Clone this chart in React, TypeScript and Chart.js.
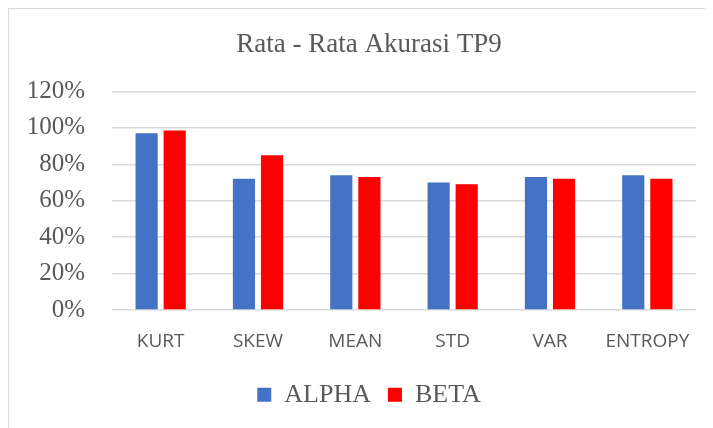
import React, { useEffect, useRef } from "react";
import { Chart, registerables } from "chart.js";

Chart.register(...registerables);

const categories = ["KURT", "SKEW", "MEAN", "STD", "VAR", "ENTROPY"];
const alphaValues = [0.97, 0.72, 0.74, 0.70, 0.73, 0.74];
const betaValues = [0.985, 0.85, 0.73, 0.69, 0.72, 0.72];
const titleText = "Rata - Rata Akurasi TP9";

export default function App() {
  const ref = useRef<HTMLCanvasElement | null>(null);
  useEffect(() => {
    if (!ref.current) return;
    const chart = new Chart(ref.current, {
      type: "bar",
      data: {
        labels: categories,
        datasets: [
          { label: "ALPHA", data: alphaValues, backgroundColor: "#4472C4", categoryPercentage: 0.577, barPercentage: 0.79 },
          { label: "BETA", data: betaValues, backgroundColor: "#FF0000", categoryPercentage: 0.577, barPercentage: 0.79 },
        ],
      },
      options: {
        animation: false,
        responsive: false,
        layout: { padding: { left: 16, right: 0, top: 0, bottom: 10.3 } },
        plugins: {
          title: {
            display: true,
            text: titleText,
            color: "#595959",
            font: { family: "'Liberation Serif', 'DejaVu Serif', serif", size: 27, weight: "normal" },
            padding: { top: 20, bottom: 30 },
          },
          legend: {
            position: "bottom",
            labels: {
              color: "#595959",
              font: { family: "'Liberation Serif', serif", size: 26 },
              boxWidth: 14,
              boxHeight: 14,
              padding: 17,
            },
          },
          tooltip: { enabled: false },
        },
        scales: {
          x: {
            grid: { display: false, drawTicks: false },
            border: { display: false },
            ticks: {
              color: "#595959",
              font: { family: "'Open Sans', sans-serif", size: 19 },
              padding: 20,
              maxRotation: 0,
            },
            afterFit: (s: any) => { s.height = 54.7; },
          },
          y: {
            min: 0,
            max: 1.2,
            ticks: {
              stepSize: 0.2,
              color: "#595959",
              font: { family: "'Liberation Serif', serif", size: 25 },
              padding: 27,
              callback: (v: any) => Math.round(Number(v) * 100) + "%",
            },
            grid: { color: "#d9d9d9", lineWidth: 1.5, drawTicks: false },
            border: { display: false },
            afterFit: (s: any) => { s.width = 87; },
          },
          ySpacer: {
            type: "linear",
            position: "right",
            display: true,
            grid: { display: false, drawTicks: false },
            border: { display: false },
            ticks: { display: false },
            afterFit: (s: any) => { s.width = 17; },
          },
        },
      },
    });
    return () => chart.destroy();
  }, []);
  return (
    <div style={{ width: 705, height: 420, borderTop: "1px solid #d9d9d9", borderLeft: "1px solid #d9d9d9", boxSizing: "border-box", background: "#fff", overflow: "hidden" }}>
      <canvas ref={ref} width={704} height={419} style={{ display: "block" }} />
    </div>
  );
}
